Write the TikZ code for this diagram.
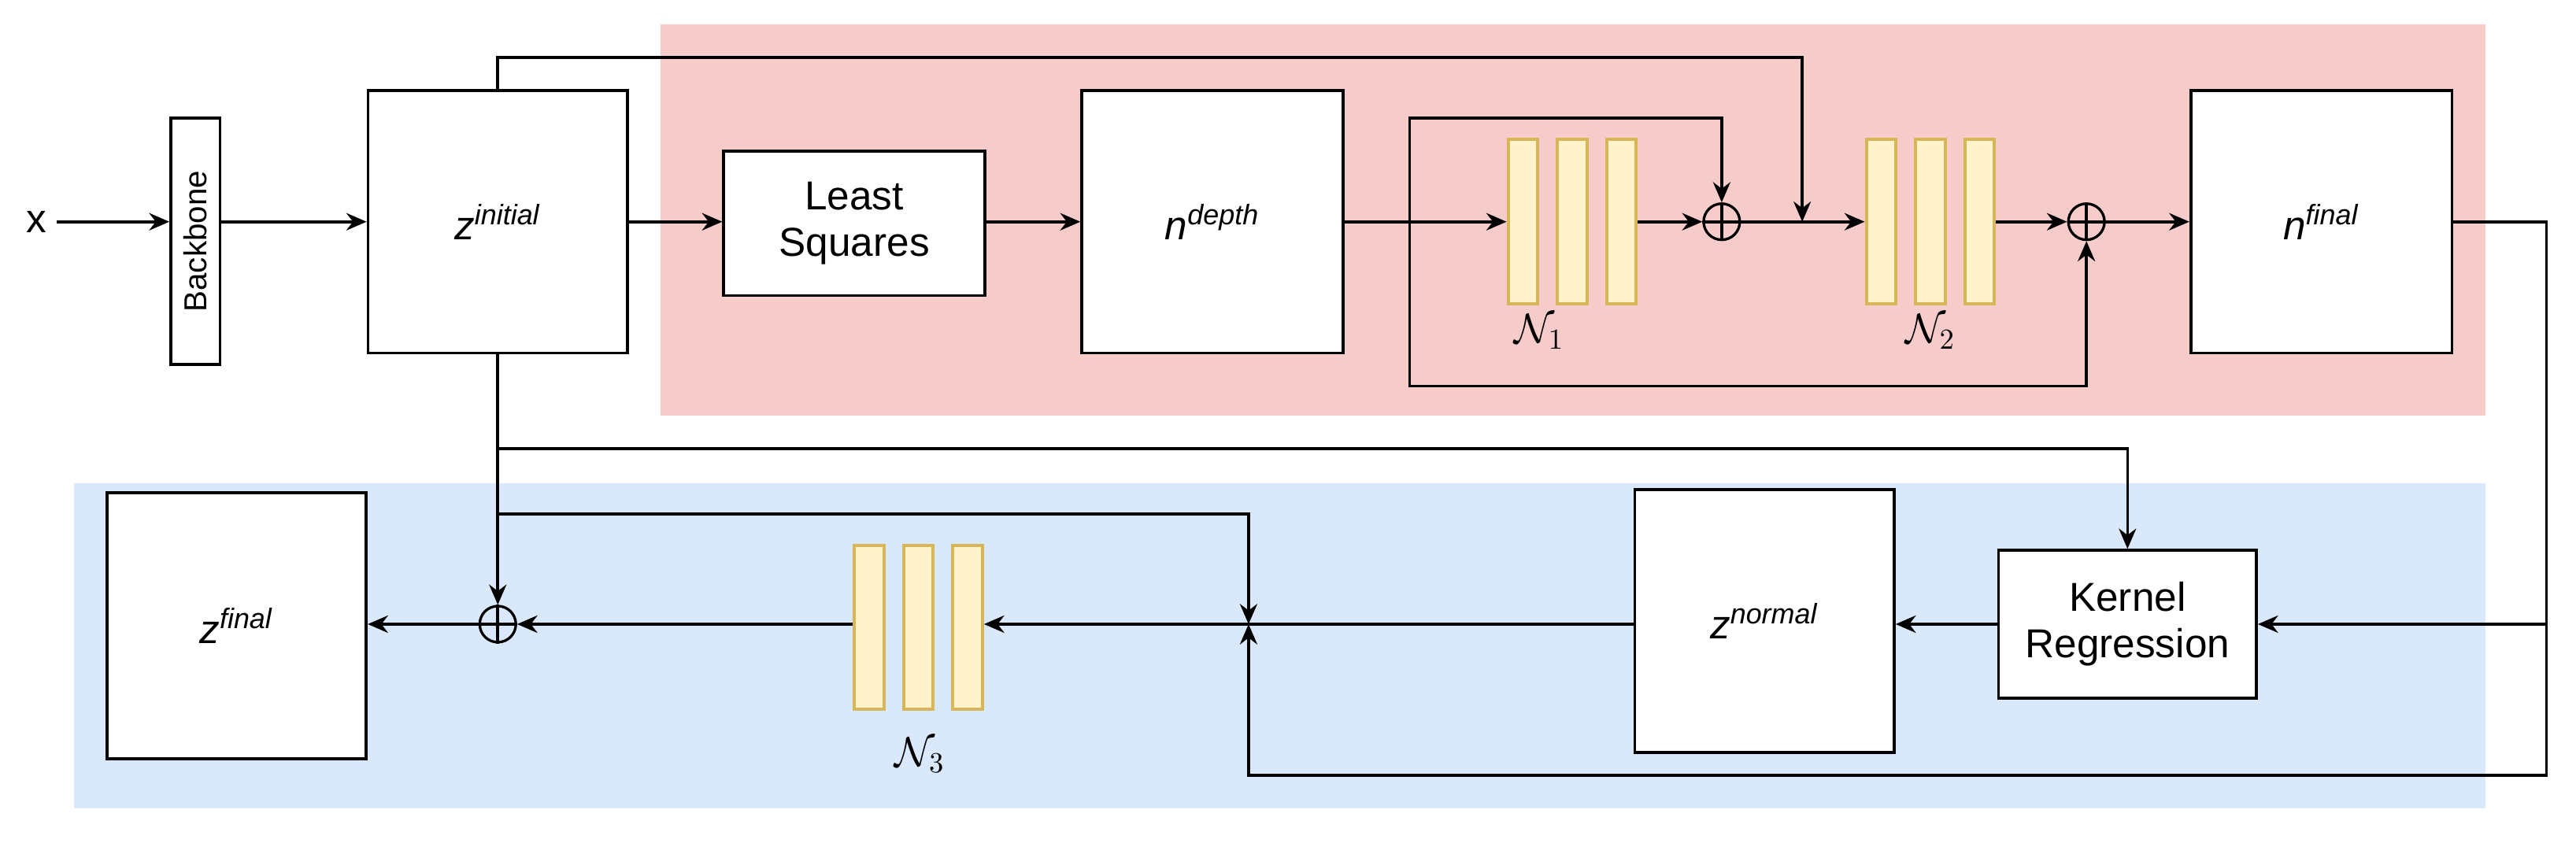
\documentclass[tikz,border=0pt]{standalone}
\usepackage{fontspec}
\setmainfont{Liberation Sans}
\usetikzlibrary{arrows.meta}
\definecolor{pinkbg}{HTML}{F5CCCA}
\definecolor{bluebg}{HTML}{DAE8FC}
\definecolor{barf}{HTML}{FFF2CC}
\definecolor{bard}{HTML}{D6B656}
\begin{document}
\begin{tikzpicture}[x=0.02cm,y=-0.02cm,
  font=\fontsize{14}{16}\selectfont,
  box/.style={draw,line width=1pt,fill=white,inner sep=0pt,align=center},
  bar/.style={draw=bard,fill=barf,line width=1.1pt,minimum width=0.36cm,minimum height=2cm,inner sep=0pt},
  op/.style={draw,circle,line width=0.9pt,minimum size=0.44cm,inner sep=0pt,fill=none},
  ar/.style={-{Stealth[length=7pt,width=6pt]},line width=1pt},
  ln/.style={line width=1pt}]
\useasboundingbox (0,0) rectangle (1568,513);
\fill[pinkbg] (402,15) rectangle (1513,253);
\fill[bluebg] (45,294) rectangle (1513,492);
\node (x) at (22,135) {x};
\node[box,minimum width=0.6cm,minimum height=3cm] (bb) at (119,147) {};
\node[rotate=90,font=\fontsize{11}{12}\selectfont] at (bb) {Backbone};
\node[box,minimum width=3.16cm,minimum height=3.2cm] (zi) at (303,135) {\textit{z}\textsuperscript{\textit{initial}}};
\node[box,minimum width=3.18cm,minimum height=1.76cm] (ls) at (520,136) {Least\\Squares};
\node[box,minimum width=3.18cm,minimum height=3.2cm] (nd) at (738,135) {\textit{n}\textsuperscript{\textit{depth}}};
\node[bar] (a1) at (927,135) {};
\node[bar] (a2) at (957,135) {};
\node[bar] (a3) at (987,135) {};
\node (l1) at (937,202) {$\mathcal{N}_1$};
\node[op] (o1) at (1048,135) {};
\draw[ln] (o1.north)--(o1.south) (o1.west)--(o1.east);
\node[bar] (b1) at (1145,135) {};
\node[bar] (b2) at (1175,135) {};
\node[bar] (b3) at (1205,135) {};
\node (l2) at (1175,202) {$\mathcal{N}_2$};
\node[op] (o2) at (1270,135) {};
\draw[ln] (o2.north)--(o2.south) (o2.west)--(o2.east);
\node[box,minimum width=3.18cm,minimum height=3.2cm] (nf) at (1413,135) {\textit{n}\textsuperscript{\textit{final}}};
\node[box,minimum width=3.14cm,minimum height=1.8cm] (kr) at (1295,380) {Kernel\\Regression};
\node[box,minimum width=3.16cm,minimum height=3.2cm] (zn) at (1074,378) {\textit{z}\textsuperscript{\textit{normal}}};
\node[bar] (c1) at (529,382) {};
\node[bar] (c2) at (559,382) {};
\node[bar] (c3) at (589,382) {};
\node (l3) at (560,460) {$\mathcal{N}_3$};
\node[op] (o3) at (303,380) {};
\draw[ln] (o3.north)--(o3.south) (o3.west)--(o3.east);
\node[box,minimum width=3.16cm,minimum height=3.24cm] (zf) at (144,381) {\textit{z}\textsuperscript{\textit{final}}};
\coordinate (j) at (760,380);
% top row
\draw[ar] (x) -- (bb.west|-x);
\draw[ar] (bb.east|-zi) -- (zi.west);
\draw[ar] (zi.east) -- (ls.west|-zi);
\draw[ar] (ls.east|-nd) -- (nd.west);
\draw[ar] (nd.east) -- (a1.west);
\draw[ar] (a3.east) -- (o1.west);
\draw[ar] (o1.east) -- (b1.west);
\draw[ar] (b3.east) -- (o2.west);
\draw[ar] (o2.east) -- (nf.west);
\draw[ar] (858,135) -- (858,72) -- (1048,72) -- (o1.north);
\draw[ar] (858,135) -- (858,235) -- (1270,235) -- (o2.south);
\draw[ar] (zi.north) -- (303,35) -- (1097,35) -- (1097,135);
% right loop
\draw[ar] (nf.east) -- (1550,135) -- (1550,380) -- (kr.east);
\draw[ar] (1550,380) -- (1550,472) -- (760,472) -- (j);
% bottom
\draw[ar] (zi.south) -- (303,273) -- (1295,273) -- (kr.north);
\draw[ar] (303,273) -- (o3.north);
\draw[ar] (303,313) -- (760,313) -- (j);
\draw[ar] (kr.west) -- (zn.east|-kr);
\draw[ar] (zn.west|-j) -- (c3.east|-j);
\draw[ar] (c1.west|-o3) -- (o3.east);
\draw[ar] (o3.west) -- (zf.east|-o3);
\end{tikzpicture}
\end{document}
